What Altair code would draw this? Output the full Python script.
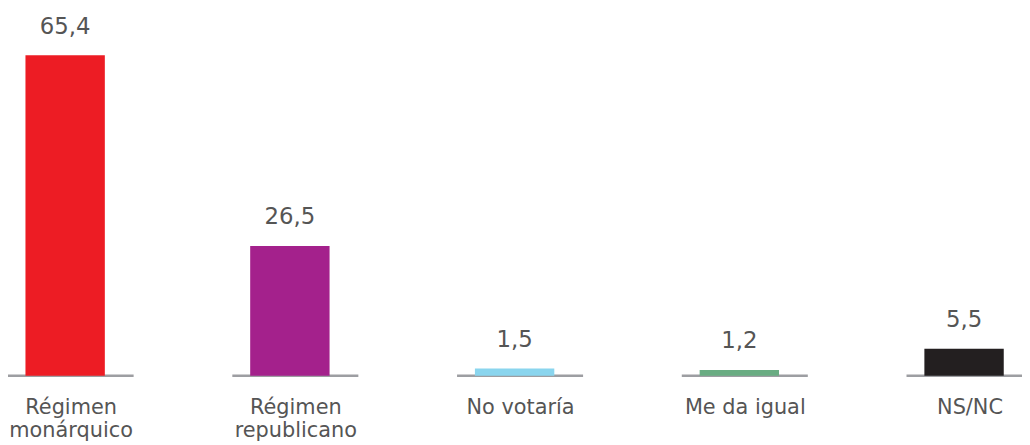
import altair as alt
import pandas as pd

categories = ["Régimen monárquico", "Régimen republicano", "No votaría", "Me da igual", "NS/NC"]
values = [65.4, 26.5, 1.5, 1.2, 5.5]
colors = ["#ED1C24", "#A4218C", "#8AD5EE", "#69AC82", "#231F20"]

df = pd.DataFrame({
    "idx": list(range(len(categories))),
    "cat": categories,
    "value": values,
    "lbl": [f"{v:.1f}".replace(".", ",") for v in values],
})

FONT = "DejaVu Sans"
TXT = "#555555"
SEG_SHIFT = 0.0243   # baseline segment centre, right of the bar centre (category units)
SEG_HALF = 0.2804    # half length of each baseline segment (category units)

parts = []
for i, c in enumerate(categories):
    shown = "['" + "', '".join(c.split(" ")) + "']" if c.startswith("Régimen") else "'" + c + "'"
    parts.append(f"round(datum.value) == {i} ? {shown} : ")
label_expr = "".join(parts) + "''"

xscale = alt.Scale(domain=[-0.2543, 4.2578], nice=False, zero=False, padding=0, clamp=True)
xaxis = alt.Axis(
    title=None, domain=False, ticks=False, grid=False, labelAngle=0,
    values=[i + SEG_SHIFT for i in range(len(categories))],
    labelFont=FONT, labelFontSize=21, labelColor=TXT, labelLimit=0,
    labelPadding=21, labelLineHeight=23, labelExpr=label_expr,
)
yscale = alt.Scale(domain=[0, 74.71], nice=False, zero=True, padding=0)

base = alt.Chart(df)

segments = base.transform_calculate(
    s=f"datum.idx + {SEG_SHIFT} - {SEG_HALF}",
    e=f"datum.idx + {SEG_SHIFT} + {SEG_HALF}",
    base="0",
).mark_rule(color="#9d9ea2", strokeWidth=2.6).encode(
    x=alt.X("s:Q", scale=xscale, axis=xaxis),
    x2="e:Q",
    y=alt.Y("base:Q", scale=yscale, axis=None),
)

bars = base.mark_bar(size=80).encode(
    x=alt.X("idx:Q", scale=xscale, axis=xaxis),
    y=alt.Y("value:Q", scale=yscale, axis=None),
    color=alt.Color("cat:N", scale=alt.Scale(domain=categories, range=colors), legend=None),
)

labels = base.mark_text(
    dy=-22, baseline="alphabetic", font=FONT, fontSize=23, color=TXT
).encode(
    x=alt.X("idx:Q", scale=xscale, axis=xaxis),
    y=alt.Y("value:Q", scale=yscale, axis=None),
    text="lbl:N",
)

chart = alt.layer(segments, bars, labels).properties(
    width=1022, height=369,
    autosize=alt.AutoSizeParams(type="none"),
    padding={"left": 0, "top": 0, "right": 0, "bottom": 68},
).configure_view(strokeWidth=0)

chart.save("out.html", embed_options={"renderer": "svg", "actions": False})
